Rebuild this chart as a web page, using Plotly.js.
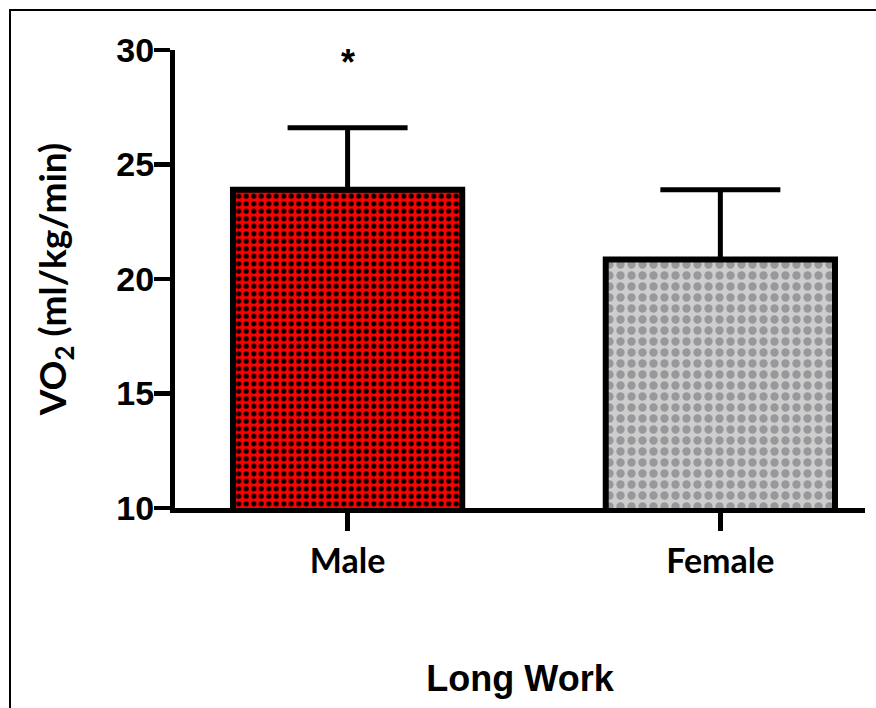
<!DOCTYPE html>
<html><head><meta charset="utf-8">
<script src="https://cdn.plot.ly/plotly-3.0.1.min.js"></script>
<style>
html,body{margin:0;padding:0;background:#fff;overflow:hidden;}
#chart{position:absolute;left:0;top:0;width:876px;height:708px;}
#frame{position:absolute;left:9px;top:9px;width:900px;height:800px;border:2px solid #000;pointer-events:none;}
</style></head><body>
<div id="chart"></div><div id="frame"></div>
<script>
const categories = ['Male', 'Female'];
const means = [23.9, 20.85];
const errorsUp = [2.7, 3.05];
const errorsDown = [0, 0];
const significance = ['*', ''];
const yTickVals = [10, 15, 20, 25, 30];
const xTitle = 'Long Work';
const yTitle = 'VO<sub>2</sub> (ml/kg/min)';

const trace = {
  type: 'bar',
  x: categories,
  y: means,
  base: 0,
  width: 0.615,
  marker: {
    color: '#000000',
    line: {color: '#000', width: 6},
    pattern: {
      shape: ['.', '.'],
      bgcolor: ['#ff0000', '#cdcdcd'],
      fgcolor: ['#000000', '#98989c'],
      size: [7.5, 11],
      solidity: [0.38, 0.45],
      fillmode: 'replace'
    }
  },
  error_y: {type: 'data', symmetric: false, array: errorsUp, arrayminus: errorsDown,
            color: '#000', thickness: 5, width: 60},
  hoverinfo: 'none'
};

const annotations = categories.map((c, i) => ({
  x: c, y: 29.45, xref: 'x', yref: 'y', text: significance[i], showarrow: false,
  font: {family: 'Liberation Sans, Arial, sans-serif', size: 36, color: '#000', weight: 'bold'}
})).filter(a => a.text);

const layout = {
  width: 876, height: 708,
  margin: {l: 175, r: 11, t: 50, b: 200, pad: 0},
  paper_bgcolor: 'rgba(0,0,0,0)', plot_bgcolor: 'rgba(0,0,0,0)',
  showlegend: false,
  xaxis: {
    range: [-0.463, 1.388], showline: true, linewidth: 5, linecolor: '#000',
    ticks: 'outside', ticklen: 18, tickwidth: 5, tickcolor: '#000',
    tickfont: {family: 'Lato, Open Sans, sans-serif', size: 34, color: '#000', weight: 'bold'},
    ticklabelstandoff: 1,
    title: {text: xTitle, standoff: 89,
            font: {family: 'Liberation Sans, Arial, sans-serif', size: 36, color: '#000', weight: 'bold'}},
    showgrid: false, zeroline: false, fixedrange: true, automargin: false
  },
  yaxis: {
    range: [10, 30], tickvals: yTickVals, ticktext: yTickVals.map(String),
    showline: true, linewidth: 5, linecolor: '#000',
    ticks: 'outside', ticklen: 16, tickwidth: 4.5, tickcolor: '#000',
    tickfont: {family: 'Liberation Sans, Arial, sans-serif', size: 34, color: '#000', weight: 'bold'},
    ticklabelstandoff: -7,
    title: {text: yTitle, standoff: 40,
            font: {family: 'Lato, Open Sans, sans-serif', size: 37, color: '#000', weight: 'bold'}},
    showgrid: false, zeroline: false, fixedrange: true, automargin: false
  },
  annotations: annotations
};

Plotly.newPlot('chart', [trace], layout, {displayModeBar: false, staticPlot: true});
</script>
</body></html>
